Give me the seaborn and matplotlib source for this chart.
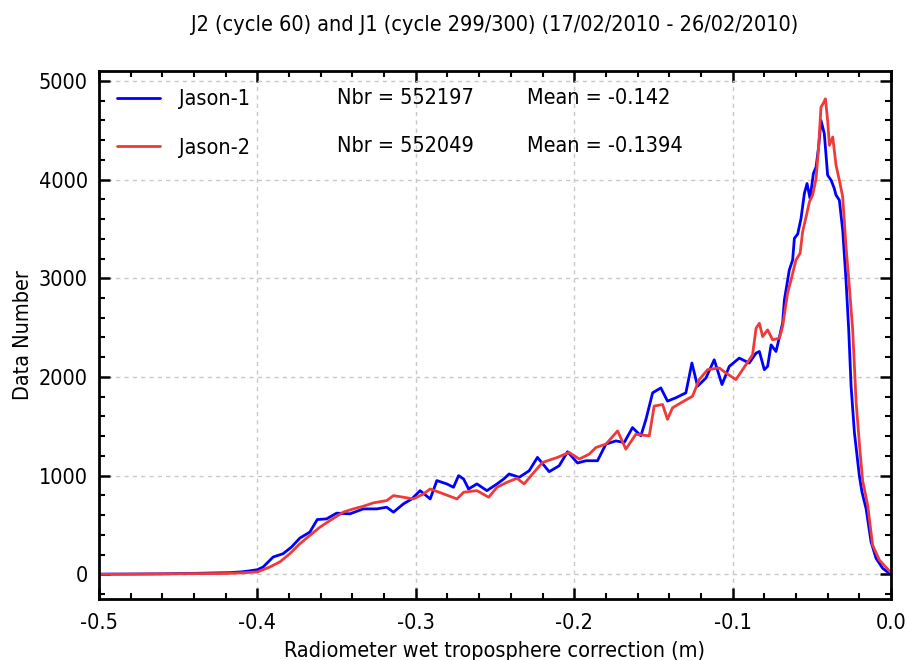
import numpy as np
import pandas as pd
import matplotlib
matplotlib.use("Agg")
import matplotlib.pyplot as plt
import seaborn as sns
from matplotlib.ticker import MultipleLocator
from matplotlib.lines import Line2D

# ---- data ----
j1_x = [-0.500, -0.480, -0.460, -0.440, -0.425, -0.4175, -0.410, -0.405, -0.400, -0.3964,
        -0.3901, -0.3838, -0.3785, -0.3732, -0.3669, -0.3622, -0.3563, -0.3500, -0.3416, -0.3331,
        -0.3247, -0.3184, -0.3141, -0.3078, -0.3025, -0.2973, -0.2909, -0.2867, -0.2804, -0.2762,
        -0.2730, -0.2698, -0.2667, -0.2614, -0.2551, -0.2487, -0.2445, -0.2411, -0.2347, -0.2284,
        -0.2232, -0.2158, -0.2095, -0.2042, -0.1979, -0.1926, -0.1853, -0.1800, -0.1737, -0.1684,
        -0.1632, -0.1579, -0.1547, -0.1505, -0.1453, -0.1411, -0.1358, -0.1295, -0.1257, -0.1221,
        -0.1168, -0.1116, -0.1067, -0.1021, -0.0958, -0.0895, -0.0852, -0.0831, -0.0800, -0.0779,
        -0.0757, -0.0726, -0.0705, -0.0684, -0.0673, -0.0642, -0.0621, -0.0610, -0.0589, -0.0568,
        -0.0547, -0.0530, -0.0511, -0.0490, -0.0473, -0.0457, -0.0442, -0.0421, -0.0400, -0.0378,
        -0.0358, -0.0347, -0.0326, -0.0305, -0.0284, -0.0267, -0.0252, -0.0231, -0.0200, -0.0183,
        -0.0157, -0.0126, -0.0094, -0.0052, -0.0010, 0.0]
j1_y = [2, 3, 5, 10, 15, 17, 25, 35, 47, 74,
        175, 209, 276, 367, 428, 555, 562, 620, 613, 663,
        663, 680, 630, 714, 764, 848, 764, 950, 916, 882,
        1000, 966, 865, 916, 848, 916, 966, 1017, 983, 1050,
        1185, 1040, 1100, 1242, 1128, 1151, 1151, 1319, 1352, 1336,
        1487, 1403, 1570, 1839, 1889, 1755, 1789, 1839, 2141, 1906,
        1990, 2174, 1923, 2107, 2191, 2141, 2241, 2258, 2074, 2107,
        2325, 2258, 2400, 2550, 2781, 3084, 3185, 3404, 3448, 3606,
        3859, 3960, 3808, 4061, 4128, 4330, 4599, 4465, 4044, 3993,
        3909, 3842, 3791, 3488, 2983, 2478, 1906, 1436, 1000, 832,
        664, 329, 161, 60, 10, 5]

j2_x = [-0.500, -0.480, -0.460, -0.440, -0.425, -0.4175, -0.410, -0.400, -0.3922, -0.3859,
        -0.3795, -0.3732, -0.3669, -0.3605, -0.3542, -0.3458, -0.3394, -0.3331, -0.3268, -0.3184,
        -0.3141, -0.3078, -0.3015, -0.2951, -0.2909, -0.2825, -0.2740, -0.2698, -0.2614, -0.2540,
        -0.2487, -0.2424, -0.2361, -0.2316, -0.2263, -0.2200, -0.2105, -0.2032, -0.1968, -0.1905,
        -0.1863, -0.1800, -0.1726, -0.1674, -0.1611, -0.1526, -0.1495, -0.1442, -0.1411, -0.1379,
        -0.1326, -0.1253, -0.1211, -0.1158, -0.1084, -0.1042, -0.0979, -0.0916, -0.0874, -0.0852,
        -0.0831, -0.0810, -0.0779, -0.0747, -0.0705, -0.0684, -0.0653, -0.0631, -0.0600, -0.0574,
        -0.0558, -0.0536, -0.0515, -0.0495, -0.0473, -0.0457, -0.0442, -0.0427, -0.0414, -0.0400,
        -0.0389, -0.0368, -0.0347, -0.0326, -0.0305, -0.0284, -0.0263, -0.0242, -0.0220, -0.0195,
        -0.0179, -0.0147, -0.0116, -0.0073, -0.0010, 0.0]
j2_y = [0, 2, 4, 7, 8, 10, 15, 24, 74, 125,
        209, 310, 394, 478, 545, 630, 663, 690, 724, 747,
        798, 781, 764, 815, 865, 815, 764, 832, 848, 781,
        882, 933, 973, 916, 1017, 1134, 1185, 1235, 1168, 1218,
        1285, 1319, 1453, 1268, 1419, 1403, 1705, 1721, 1570, 1688,
        1738, 1805, 1973, 2074, 2091, 2040, 1973, 2124, 2225, 2493,
        2544, 2409, 2477, 2376, 2393, 2512, 2848, 2983, 3185, 3253,
        3471, 3623, 3774, 3842, 4010, 4330, 4734, 4774, 4818, 4599,
        4347, 4431, 4145, 3993, 3825, 3320, 2916, 2478, 1738, 1235,
        950, 698, 295, 144, 34, 20]

series_names = ["Jason-1", "Jason-2"]
series_nbr = [552197, 552049]
series_mean = ["-0.142", "-0.1394"]
series_colors = ["#0000ff", "#f03a3a"]
title = "J2 (cycle 60) and J1 (cycle 299/300) (17/02/2010 - 26/02/2010)"
xlabel = "Radiometer wet troposphere correction (m)"
ylabel = "Data Number"

df = pd.concat([
    pd.DataFrame({"x": j1_x, "y": j1_y, "mission": series_names[0]}),
    pd.DataFrame({"x": j2_x, "y": j2_y, "mission": series_names[1]}),
])

sns.set_theme(style="white")
plt.rcParams["font.family"] = ["DejaVu Sans"]
plt.rcParams["font.stretch"] = "condensed"
plt.rcParams["text.color"] = "black"
plt.rcParams["axes.labelcolor"] = "black"
plt.rcParams["xtick.color"] = "black"
plt.rcParams["ytick.color"] = "black"

FS = 15.5

fig = plt.figure(figsize=(9.07, 6.6), dpi=100)
ax = fig.add_axes([99/907, 1-599/660, (891-99)/907, (599-71)/660])

sns.lineplot(data=df, x="x", y="y", hue="mission", hue_order=series_names,
             palette=series_colors, linewidth=2, ax=ax, legend=False,
             estimator=None, sort=True)

ax.set_xlim(-0.5, 0.0)
ax.set_ylim(-250, 5100)
ax.xaxis.set_major_locator(MultipleLocator(0.1))
ax.xaxis.set_minor_locator(MultipleLocator(0.02))
ax.yaxis.set_major_locator(MultipleLocator(1000))
ax.yaxis.set_minor_locator(MultipleLocator(200))
ax.xaxis.set_major_formatter(matplotlib.ticker.FormatStrFormatter("%.1f"))
ax.tick_params(which="both", direction="in", top=True, right=True, bottom=True, left=True,
               color="black", labelcolor="black", labelsize=FS)
ax.tick_params(which="major", length=8, width=1.8)
ax.tick_params(axis="x", which="major", pad=10)
ax.tick_params(axis="y", which="major", pad=8)
ax.tick_params(which="minor", length=4.5, width=1.5)
for s in ax.spines.values():
    s.set_linewidth(2)
    s.set_color("black")
ax.grid(True, which="major", color="#c8c8c8", linestyle=(0, (3, 3)), linewidth=1)

ax.set_title(title, fontsize=FS, pad=29, color="black")
ax.set_xlabel(xlabel, fontsize=FS, labelpad=6)
ax.set_ylabel(ylabel, fontsize=FS, labelpad=4)

handles = [Line2D([], [], color=c, lw=2) for c in series_colors]
ax.legend(handles, series_names, loc="upper left", bbox_to_anchor=(0.0, 1.0),
          frameon=False, fontsize=FS, handlelength=2.0, handletextpad=0.85,
          labelspacing=1.32, borderaxespad=0.45, labelcolor="black")

for i, (n, m) in enumerate(zip(series_nbr, series_mean)):
    yy = 0.949 - i * 0.0905
    ax.text(0.300, yy, f"Nbr = {n}", transform=ax.transAxes, fontsize=FS, va="center")
    ax.text(0.541, yy, f"Mean = {m}", transform=ax.transAxes, fontsize=FS, va="center")

fig.savefig("out.png", dpi=100)
